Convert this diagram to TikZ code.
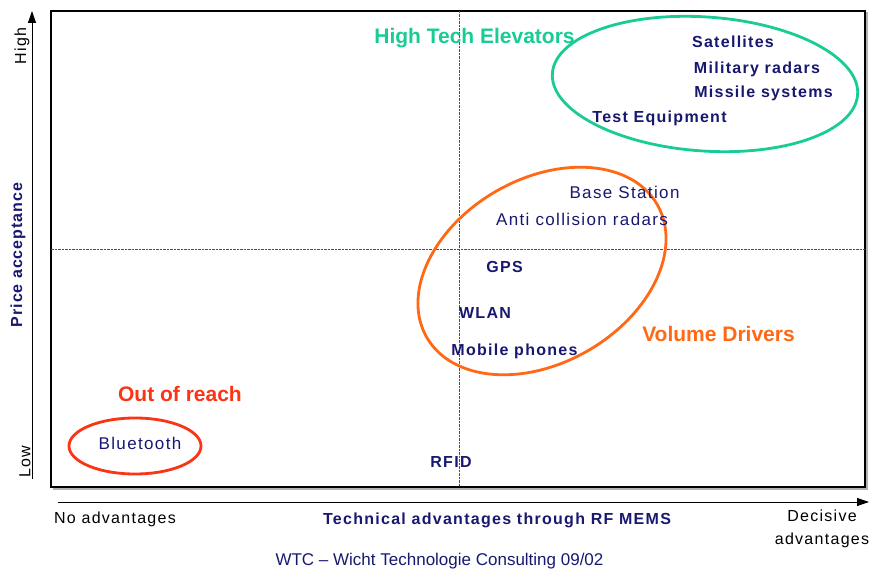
\documentclass[tikz,border=0pt]{standalone}
\usepackage{fontspec}
\setmainfont{Liberation Sans}
\usetikzlibrary{arrows.meta}
\definecolor{navytxt}{RGB}{24,24,112}
\definecolor{tealc}{RGB}{25,204,150}
\definecolor{orangec}{RGB}{255,104,20}
\definecolor{redc}{RGB}{250,52,20}
\definecolor{gridc}{RGB}{80,80,80}
\tikzset{
  base/.style={inner sep=0pt, anchor=center},
  navyb/.style={base, text=navytxt, font=\fontsize{16}{18}\selectfont\bfseries\addfontfeature{LetterSpace=8}},
  navyr/.style={base, text=navytxt, font=\fontsize{17}{19}\selectfont\addfontfeature{LetterSpace=8}},
  blackr/.style={base, text=black, font=\fontsize{16}{23}\selectfont\addfontfeature{LetterSpace=8}},
  bigtitle/.style={base, font=\fontsize{21}{24}\selectfont\bfseries},
  grp/.style={line width=2.8pt},
  midline/.style={gridc, line width=0.9pt, dash pattern=on 2.5pt off 1pt},
  axisarrow/.style={line width=1pt, -{Triangle[length=12pt,width=8pt]}},
}
\begin{document}
\begin{tikzpicture}[x=1pt,y=-1pt]
\useasboundingbox (0,0) rectangle (870,569);
% frame with shadow
\draw[gray!60, line width=2pt] (53.5,13.5) rectangle (867,489);
\draw[black, line width=1.5pt, fill=white] (51,11) rectangle (865,487);
% quadrant lines
\coordinate (vtop) at (459,11);
\coordinate (vbot) at (459,487);
\coordinate (hl) at (51,249);
\coordinate (hr) at (865,249);
\draw[midline] (vtop) -- (vbot);
\draw[midline] (hl) -- (hr);
% axes
\coordinate (ya) at (32,479);
\coordinate (yb) at (32,11);
\coordinate (xa) at (58,502);
\coordinate (xb) at (869,502);
\draw[axisarrow] (ya) -- (yb);
\draw[axisarrow] (xa) -- (xb);
% ellipses
\coordinate (ge) at (705,84);
\coordinate (oe) at (542,271);
\coordinate (re) at (135,446);
\draw[grp, tealc] [rotate around={-4:(ge)}] (ge) ellipse [x radius=153, y radius=67];
\draw[grp, orangec] [rotate around={30:(oe)}] (oe) ellipse [x radius=133, y radius=92];
\draw[grp, redc] (re) ellipse [x radius=66, y radius=28];
% group titles
\node[bigtitle, text=tealc] (hte) at (474.5,38) {High Tech Elevators};
\node[bigtitle, text=orangec] (vd) at (718.5,334) {Volume Drivers};
\node[bigtitle, text=redc] (oor) at (180,394) {Out of reach};
% items
\node[navyb] (sat) at (733,42) {Satellites};
\node[navyb] (mil) at (757,69) {Military radars};
\node[navyb] (mis) at (763.5,93) {Missile systems};
\node[navyb] (test) at (659.5,118) {Test Equipment};
\node[navyr] (bs) at (624.5,192) {Base Station};
\node[navyr] (anti) at (582,219) {Anti collision radars};
\node[navyb] (gps) at (504.5,267) {GPS};
\node[navyb] (wlan) at (485,313) {WLAN};
\node[navyb] (mob) at (514.5,351) {Mobile phones};
\node[navyr] (bt) at (140,443) {Bluetooth};
\node[navyb] (rfid) at (451,462) {RFID};
% axis labels
\node[blackr, rotate=90] (high) at (22,46) {High};
\node[blackr, rotate=90] (low) at (25,462) {Low};
\node[base, rotate=90, text=navytxt, font=\fontsize{16}{18}\selectfont\bfseries\addfontfeature{LetterSpace=6}] (pa) at (18,255) {Price acceptance};
\node[blackr] (noadv) at (115,519) {No advantages};
\node[navyb] (tech) at (497,520) {Technical advantages through RF MEMS};
\node[blackr, align=center] (dec) at (822,528.5) {Decisive\\advantages};
\node[base, text=navytxt, font=\fontsize{17}{19}\selectfont] (wtc) at (439.5,561) {WTC -- Wicht Technologie Consulting 09/02};
\end{tikzpicture}
\end{document}
